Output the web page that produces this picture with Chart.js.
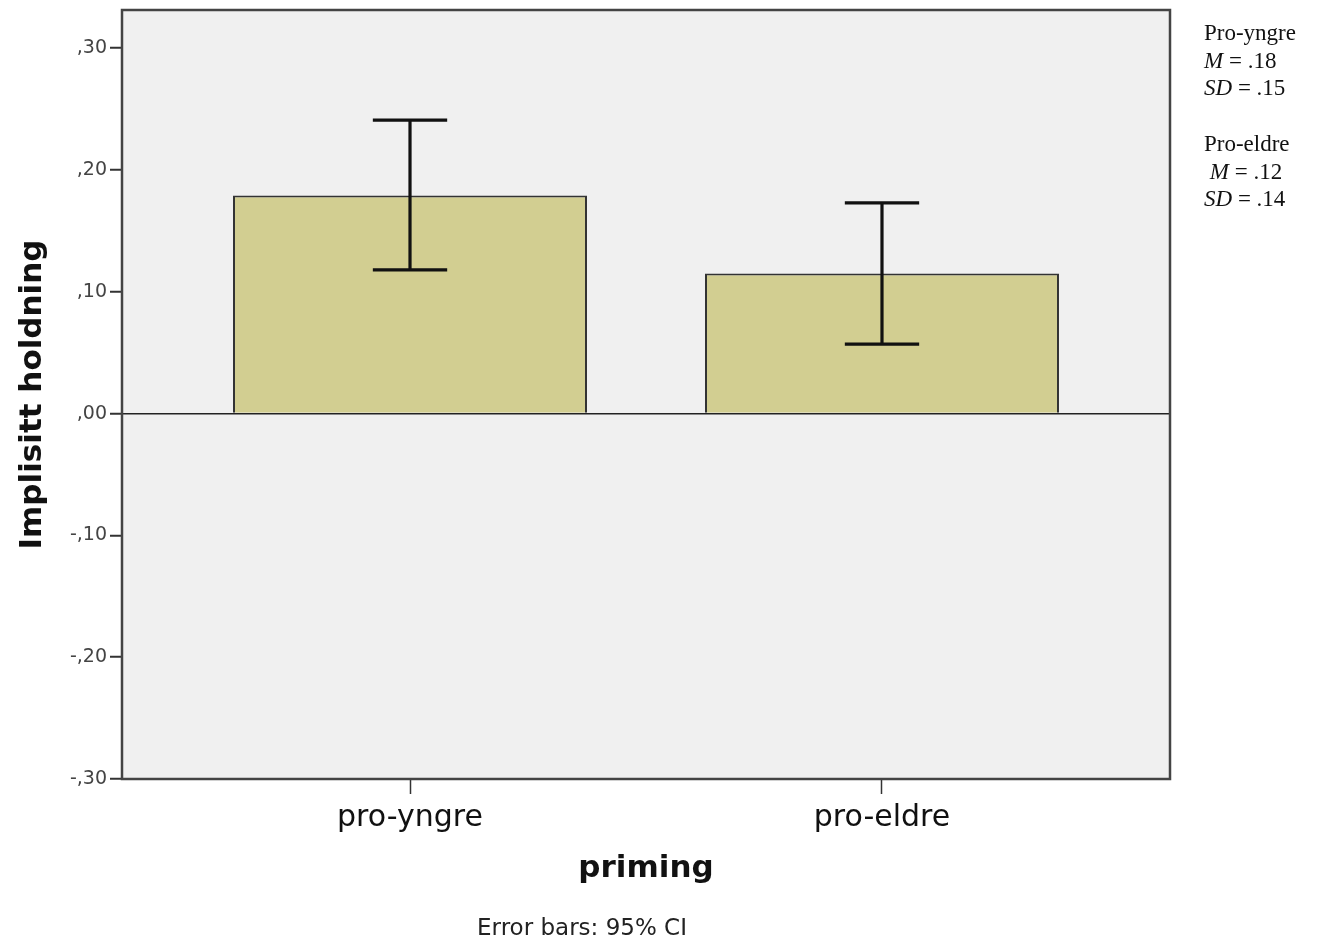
<!DOCTYPE html>
<html>
<head>
<meta charset="utf-8">
<script src="https://cdn.jsdelivr.net/npm/chart.js@4/dist/chart.umd.min.js"></script>
<style>
  html, body { margin: 0; padding: 0; background: #fff; }
  #wrap { position: relative; width: 1317px; height: 940px; }
  #chart { position: absolute; left: 0; top: 0; }
  .stats {
    position: absolute; left: 1204px; top: 19px;
    font-family: 'Liberation Serif', 'Times New Roman', serif;
    font-size: 23px; line-height: 27.7px; color: #111;
  }
  .stats .gap { height: 27.7px; }
  .note {
    position: absolute; left: 0; width: 1164px; top: 914px;
    text-align: center; font: 23px 'DejaVu Sans', sans-serif; color: #222;
  }
</style>
</head>
<body>
<div id="wrap">
  <canvas id="chart" width="1317" height="940"></canvas>
  <div class="stats" id="stats"></div>
  <div class="note">Error bars: 95% CI</div>
</div>
<script>
const categories = ['pro-yngre', 'pro-eldre'];
const means = [0.179, 0.115];
const ciLower = [0.118, 0.057];
const ciUpper = [0.241, 0.173];
const yTicks = [-0.3, -0.2, -0.1, 0, 0.1, 0.2, 0.3];

const statNames = ['Pro-yngre', 'Pro-eldre'];
const statM = ['.18', '.12'];
const statSD = ['.15', '.14'];

// side annotation with M and SD per group
const statsBox = document.getElementById('stats');
statNames.forEach((name, i) => {
  if (i > 0) statsBox.insertAdjacentHTML('beforeend', '<div class="gap"></div>');
  const indent = i > 0 ? '&nbsp;' : '';
  statsBox.insertAdjacentHTML('beforeend',
    `<div>${name}</div>` +
    `<div>${indent}<i>M</i> = ${statM[i]}</div>` +
    `<div><i>SD</i> = ${statSD[i]}</div>`);
});

// ,30 style labels (comma decimal, no leading zero)
const formatTick = (v) => {
  const n = Math.round(Math.abs(v) * 100);
  return (v < 0 ? '-' : '') + ',' + String(n).padStart(2, '0');
};

// grey plot background and the frame round it
const plotFrame = {
  id: 'plotFrame',
  beforeDraw(chart) {
    const { ctx, chartArea: a } = chart;
    ctx.save();
    ctx.fillStyle = '#f0f0f0';
    ctx.fillRect(a.left, a.top, a.width, a.height);
    ctx.restore();
  },
  afterDraw(chart) {
    const { ctx, chartArea: a } = chart;
    ctx.save();
    ctx.strokeStyle = '#444';
    ctx.lineWidth = 2.5;
    ctx.strokeRect(a.left, a.top, a.width, a.height);
    ctx.restore();
  },
};

const errorBars = {
  id: 'errorBars',
  afterDatasetsDraw(chart) {
    const { ctx, scales: { y } } = chart;
    const meta = chart.getDatasetMeta(0);
    ctx.save();
    ctx.strokeStyle = '#111';
    ctx.lineWidth = 3.2;
    meta.data.forEach((bar, i) => {
      const top = y.getPixelForValue(ciUpper[i]);
      const bottom = y.getPixelForValue(ciLower[i]);
      const half = bar.width * 0.105;
      ctx.beginPath();
      ctx.moveTo(bar.x, top);
      ctx.lineTo(bar.x, bottom);
      ctx.moveTo(bar.x - half, top);
      ctx.lineTo(bar.x + half, top);
      ctx.moveTo(bar.x - half, bottom);
      ctx.lineTo(bar.x + half, bottom);
      ctx.stroke();
    });
    ctx.restore();
  },
};

new Chart(document.getElementById('chart'), {
  type: 'bar',
  data: {
    datasets: [
      {
        data: means.map((m, i) => ({ x: i, y: m })),
        backgroundColor: '#d2ce91',
        borderColor: '#333',
        borderWidth: 2,
        barPercentage: 0.75,
        categoryPercentage: 1,
      },
    ],
  },
  options: {
    responsive: false,
    animation: false,
    layout: { padding: { top: 10, right: 147, left: 0, bottom: 0 } },
    plugins: {
      legend: { display: false },
      tooltip: { enabled: false },
    },
    scales: {
      x: {
        type: 'linear',
        min: -0.6102,
        max: 1.6102,
        offset: false,
        afterBuildTicks: (s) => { s.ticks = categories.map((c, i) => ({ value: i })); },
        afterFit: (s) => {
          s.height = 161;
          s.paddingLeft = 0;
          s.paddingRight = 0;
        },
        border: { display: false },
        grid: {
          offset: false,
          drawOnChartArea: false,
          tickLength: 15,
          tickColor: '#333',
          tickWidth: 1.5,
        },
        ticks: {
          color: '#111',
          padding: 6,
          font: { family: 'DejaVu Sans', size: 30 },
          callback: (v) => categories[v],
        },
        title: {
          display: true,
          text: 'priming',
          color: '#111',
          padding: { top: 0, bottom: 52 },
          font: { family: 'DejaVu Sans', size: 31, weight: 'bold' },
        },
      },
      y: {
        min: -0.3,
        max: 0.3314,
        afterBuildTicks: (s) => { s.ticks = yTicks.map((v) => ({ value: v })); },
        afterFit: (s) => {
          s.width = 122;
          s.paddingTop = 0;
          s.paddingBottom = 0;
        },
        border: { display: false },
        grid: {
          color: (c) => (c.tick && c.tick.value === 0 ? '#222' : 'rgba(0,0,0,0)'),
          lineWidth: 1.5,
          tickLength: 12,
          tickColor: '#333',
          tickWidth: 2,
        },
        ticks: {
          color: '#444',
          padding: 3,
          font: { family: 'DejaVu Sans', size: 19 },
          callback: (v) => formatTick(v),
        },
        title: {
          display: true,
          text: 'Implisitt holdning',
          color: '#111',
          padding: { top: 14, bottom: 0 },
          font: { family: 'DejaVu Sans', size: 31, weight: 'bold' },
        },
      },
    },
  },
  plugins: [plotFrame, errorBars],
});
</script>
</body>
</html>
